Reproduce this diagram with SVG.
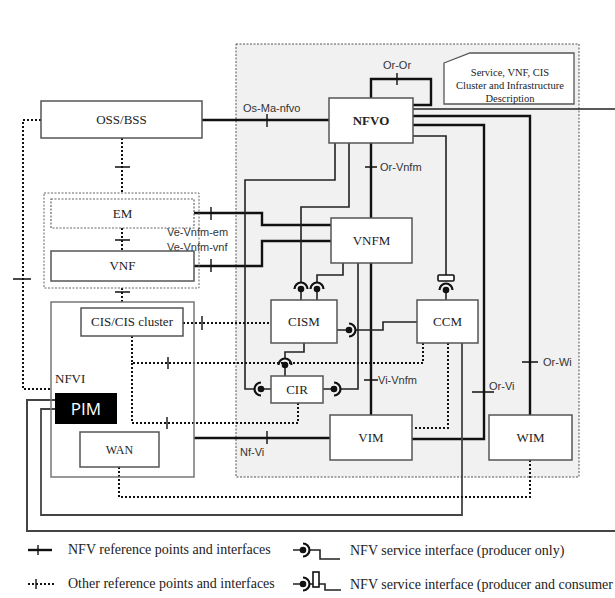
<svg xmlns="http://www.w3.org/2000/svg" width="615" height="598" viewBox="0 0 615 598">
  <style>
    .box { fill: #ffffff; stroke: #555; stroke-width: 1.5; }
    .lbl { font-family: "Liberation Serif", "Times New Roman", serif; font-size: 13px; fill: #222; text-anchor: middle; }
    .desc { font-family: "Liberation Serif", "Times New Roman", serif; font-size: 10.5px; fill: #222; text-anchor: middle; }
    .rp { font-family: "Liberation Sans", Arial, sans-serif; font-size: 11px; fill: #333; }
    .ref { fill: none; stroke: #111; stroke-width: 2.4; }
    .svc { fill: none; stroke: #222; stroke-width: 1.6; }
    .oth { fill: none; stroke: #111; stroke-width: 2; stroke-dasharray: 2 2; }
    .tick { fill: none; stroke: #111; stroke-width: 1.4; }
    .leg { font-family: "Liberation Serif", "Times New Roman", serif; font-size: 14px; fill: #222; }
  </style>
  <defs>
    <!-- ball (producer) and socket (consumer) glyph, socket pointing up -->
    <g id="sock">
      <path d="M-6.5,0 A6.5,6.5 0 0 1 6.5,0" fill="none" stroke="#111" stroke-width="2.2"/>
      <circle r="3.3" fill="#111"/>
    </g>
  </defs>

  <rect width="615" height="598" fill="#ffffff"/>

  <!-- NFV-MANO area -->
  <rect x="236" y="44" width="343" height="433" fill="#f1f1f1" stroke="#555" stroke-width="1" stroke-dasharray="2 1.5"/>

  <g id="connectors">
    <!-- NFV reference points -->
    <path class="ref" d="M202,120 H329"/>
    <path class="ref" d="M371,98 V79 H431 V105 H413"/>
    <path class="ref" d="M413,116 H530 V415"/>
    <path class="ref" d="M413,125 H484 V439 H412"/>
    <path class="ref" d="M371,143 V218"/>
    <path class="ref" d="M371,263 V415"/>
    <path class="ref" d="M194,213 H262 V225 H331"/>
    <path class="ref" d="M194,266 H262 V241 H331"/>
    <path class="ref" d="M194,438 H330"/>

    <!-- service interfaces -->
    <path class="svc" d="M413,136 H446 V275"/>
    <path class="svc" d="M349,143 V207 H301 V282.5 M301,289 V300"/>
    <path class="svc" d="M335,143 V180 H245 V389 H254.5 M261,389 H271"/>
    <path class="svc" d="M343,263 V275 H317 V282.5 M317,289 V300"/>
    <path class="svc" d="M358,263 V389 H340.5 M334,389 H323"/>
    <path class="svc" d="M304,343 V352 H285 V358.5 M285,365 V376"/>
    <path class="svc" d="M417,322 H383 V330 H355.5 M349,330 H337"/>
    <path class="svc" d="M446,290 V300"/>
    <path class="svc" d="M413,109 H615"/>
    <path fill="none" stroke="#444" stroke-width="2" d="M55,400 H27 V531 H615"/>
    <path fill="none" stroke="#444" stroke-width="1.8" d="M55,409 H41 V515 H462 V343"/>

    <!-- other reference points -->
    <path class="oth" d="M122,138 V193"/>
    <path class="oth" d="M41,120 H23 V389 H51"/>
    <path class="oth" d="M122,228 V251"/>
    <path class="oth" d="M122,288 V302"/>
    <path class="oth" d="M183,323 H271"/>
    <path class="oth" d="M132,336 V363 H423 V343"/>
    <path class="oth" d="M132,363 V423 H298 V403"/>
    <path class="oth" d="M448,343 V428 H413"/>
    <path class="oth" d="M119,467 V497 H530 V460"/>

    <!-- ticks -->
    <path class="tick" d="M267,114 V127 M397,73 V85 M365,167 H377 M364,380 H378 M472,392 H494 M522,362 H538 M211,207 V220 M211,259 V272 M267,431 V444 M115,167 H130 M115,240 H130 M115,292 H130 M13,279 H31 M202,316 V330 M168,357 V369 M167,417 V429"/>

    <!-- ball and socket glyphs -->
    <use href="#sock" transform="translate(301,289)"/>
    <use href="#sock" transform="translate(317,289)"/>
    <use href="#sock" transform="translate(285,365)"/>
    <use href="#sock" transform="translate(446,290)"/>
    <rect x="438" y="275" width="16" height="6" rx="1" fill="#fff" stroke="#111" stroke-width="1.6"/>
    <use href="#sock" transform="translate(349,330) rotate(90)"/>
    <use href="#sock" transform="translate(334,389) rotate(90)"/>
    <use href="#sock" transform="translate(261,389) rotate(-90)"/>

    <!-- interface labels -->
    <text class="rp" x="243" y="112">Os-Ma-nfvo</text>
    <text class="rp" x="397" y="69" text-anchor="middle">Or-Or</text>
    <text class="rp" x="380" y="171">Or-Vnfm</text>
    <text class="rp" x="378" y="384">Vi-Vnfm</text>
    <text class="rp" x="489" y="390">Or-Vi</text>
    <text class="rp" x="543" y="366">Or-Wi</text>
    <text class="rp" x="167" y="236">Ve-Vnfm-em</text>
    <text class="rp" x="167" y="251">Ve-Vnfm-vnf</text>
    <text class="rp" x="240" y="456">Nf-Vi</text>
  </g>

  <g id="descriptor">
    <polygon points="444,63 470,53 574,53 574,104 444,104" fill="#fff" stroke="#555" stroke-width="1.3"/>
    <text class="desc" x="510" y="76">Service, VNF, CIS</text>
    <text class="desc" x="510" y="89">Cluster and Infrastructure</text>
    <text class="desc" x="510" y="102">Description</text>
  </g>

  <g id="oss-bss">
    <rect class="box" x="41" y="101" width="161" height="37"/>
    <text class="lbl" x="121.5" y="124">OSS/BSS</text>
  </g>

  <g id="vnf-group">
    <rect x="44" y="193" width="155" height="95" fill="none" stroke="#666" stroke-width="1" stroke-dasharray="2 1.5"/>
  </g>
  <g id="em">
    <rect x="51" y="199" width="143" height="29" fill="#fff" stroke="#666" stroke-width="1.2" stroke-dasharray="2 1.5"/>
    <text class="lbl" x="122.5" y="218">EM</text>
  </g>
  <g id="vnf">
    <rect class="box" x="51" y="251" width="143" height="30"/>
    <text class="lbl" x="122.5" y="270">VNF</text>
  </g>

  <g id="nfvi">
    <rect x="51" y="302" width="143" height="175" fill="none" stroke="#777" stroke-width="1.5"/>
    <text class="lbl" x="55" y="383" style="text-anchor:start">NFVI</text>
  </g>
  <g id="cis-cluster">
    <rect class="box" x="81" y="308" width="102" height="28"/>
    <text class="lbl" x="132" y="326">CIS/CIS cluster</text>
  </g>
  <g id="pim">
    <rect x="55" y="393" width="62" height="31" fill="#000"/>
    <text x="86" y="415" font-family="'Open Sans', 'Liberation Sans', sans-serif" font-size="17" fill="#fff" text-anchor="middle">PIM</text>
  </g>
  <g id="wan">
    <rect class="box" x="80" y="432" width="79" height="35"/>
    <text class="lbl" x="119.5" y="454" style="font-size:12px">WAN</text>
  </g>

  <g id="nfvo">
    <rect class="box" x="329" y="98" width="84" height="45"/>
    <text class="lbl" x="371" y="125" font-weight="bold">NFVO</text>
  </g>
  <g id="vnfm">
    <rect class="box" x="331" y="218" width="81" height="45"/>
    <text class="lbl" x="371.5" y="245">VNFM</text>
  </g>
  <g id="cism">
    <rect class="box" x="271" y="300" width="66" height="43"/>
    <text class="lbl" x="304" y="326">CISM</text>
  </g>
  <g id="ccm">
    <rect class="box" x="417" y="300" width="61" height="43"/>
    <text class="lbl" x="447.5" y="326">CCM</text>
  </g>
  <g id="cir">
    <rect class="box" x="271" y="376" width="52" height="27"/>
    <text class="lbl" x="297" y="394">CIR</text>
  </g>
  <g id="vim">
    <rect class="box" x="330" y="415" width="82" height="45"/>
    <text class="lbl" x="371" y="442">VIM</text>
  </g>
  <g id="wim">
    <rect class="box" x="489" y="415" width="83" height="45"/>
    <text class="lbl" x="530.5" y="442">WIM</text>
  </g>

  <g id="legend">
    <path class="ref" d="M28,550 H52" stroke-width="2"/>
    <path class="tick" d="M38,545 V555"/>
    <text class="leg" x="68" y="554">NFV reference points and interfaces</text>
    <path class="oth" d="M28,584 H54"/>
    <path class="tick" d="M36,579 V589"/>
    <text class="leg" x="68" y="588">Other reference points and interfaces</text>

    <path class="svc" d="M293,550 H303 M309.5,550 H320 V559 H340"/>
    <use href="#sock" transform="translate(303,550) rotate(90)"/>
    <text class="leg" x="350" y="555">NFV service interface (producer only)</text>

    <path class="svc" d="M293,584 H303 M309.5,584 H313 M319,584 H325 V590 H341"/>
    <use href="#sock" transform="translate(303,584) rotate(90)"/>
    <rect x="313" y="572" width="6" height="15" fill="#fff" stroke="#111" stroke-width="1.6"/>
    <text class="leg" x="350" y="589">NFV service interface (producer and consumer</text>
  </g>
</svg>
